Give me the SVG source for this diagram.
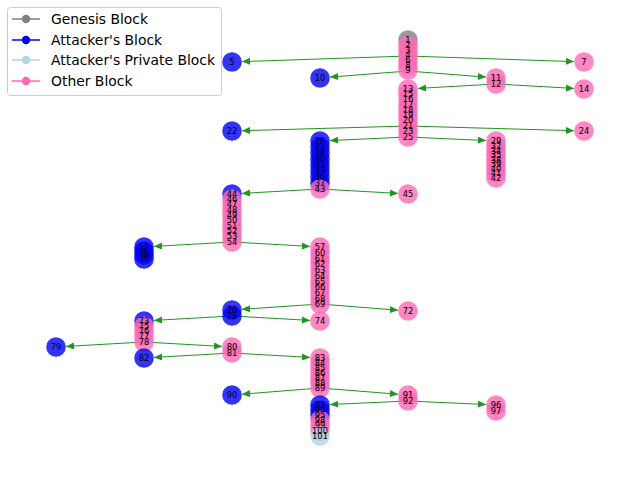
<svg xmlns="http://www.w3.org/2000/svg" width="640" height="480" viewBox="0 0 640 480">
<style>
  .node circle { r: 9.8; fill-opacity: 0.8; }
  .g circle { fill: #808080; }
  .a circle { fill: #0000ff; }
  .p circle { fill: #add8e6; }
  .o circle { fill: #ff69b4; }
  .labels text { font-family: "DejaVu Sans", sans-serif; font-size: 8.3px; text-anchor: middle; dominant-baseline: central; fill: #000; }
  .edges line { stroke: #1f961f; stroke-width: 1; marker-end: url(#arrow); }
  .legend text { font-family: "DejaVu Sans", sans-serif; font-size: 13.9px; fill: #000; }
  .legend line { stroke-width: 1.5; }
</style>
<defs>
  <marker id="arrow" markerUnits="userSpaceOnUse" markerWidth="9" markerHeight="8" refX="8" refY="3.5" orient="auto">
    <path d="M0,0 L8,3.5 L0,7 z" fill="#1f961f"/>
  </marker>
</defs>
<rect width="640" height="480" fill="#fff"/>

<!-- fork connectors, drawn beneath the blocks -->
<g id="connectors" class="edges">
  <line x1="408" y1="56" x2="242" y2="61.6"/>
  <line x1="408" y1="56" x2="574" y2="61.6"/>
  <line x1="408" y1="71" x2="330" y2="77.1"/>
  <line x1="408" y1="71" x2="486" y2="77.1"/>
  <line x1="496" y1="84" x2="418" y2="88.4"/>
  <line x1="496" y1="84" x2="574" y2="88.4"/>
  <line x1="408" y1="126" x2="242" y2="130.7"/>
  <line x1="408" y1="126" x2="574" y2="130.7"/>
  <line x1="408" y1="137" x2="330" y2="140.5"/>
  <line x1="408" y1="137" x2="486" y2="140.5"/>
  <line x1="320" y1="189" x2="242" y2="193.4"/>
  <line x1="320" y1="189" x2="398" y2="193.4"/>
  <line x1="232" y1="242" x2="154" y2="246.4"/>
  <line x1="232" y1="242" x2="310" y2="246.4"/>
  <line x1="320" y1="304" x2="242" y2="309.3"/>
  <line x1="320" y1="304" x2="398" y2="310.2"/>
  <line x1="232" y1="316" x2="154" y2="320.4"/>
  <line x1="232" y1="316" x2="310" y2="320.4"/>
  <line x1="144" y1="342" x2="66" y2="346.4"/>
  <line x1="144" y1="342" x2="222" y2="346.4"/>
  <line x1="232" y1="353" x2="154" y2="357.4"/>
  <line x1="232" y1="353" x2="310" y2="357.4"/>
  <line x1="320" y1="388" x2="242" y2="394.2"/>
  <line x1="320" y1="388" x2="398" y2="394.2"/>
  <line x1="408" y1="401" x2="330" y2="404.5"/>
  <line x1="408" y1="401" x2="486" y2="404.5"/>
</g>

<!-- blocks, in creation order -->
<g id="n1" class="node g"><circle cx="408" cy="40"/></g>
<g id="n2" class="node o"><circle cx="408" cy="45"/></g>
<g id="n3" class="node o"><circle cx="408" cy="50"/></g>
<g id="n4" class="node o"><circle cx="408" cy="55"/></g>
<g id="n5" class="node a"><circle cx="232" cy="62"/></g>
<g id="n6" class="node o"><circle cx="408" cy="60"/></g>
<g id="n7" class="node o"><circle cx="584" cy="62"/></g>
<g id="n8" class="node o"><circle cx="408" cy="65"/></g>
<g id="n9" class="node o"><circle cx="408" cy="70"/></g>
<g id="n10" class="node a"><circle cx="320" cy="78"/></g>
<g id="n11" class="node o"><circle cx="496" cy="78"/></g>
<g id="n12" class="node o"><circle cx="496" cy="84"/></g>
<g id="n13" class="node o"><circle cx="408" cy="89"/></g>
<g id="n14" class="node o"><circle cx="584" cy="89"/></g>
<g id="n15" class="node o"><circle cx="408" cy="94"/></g>
<g id="n16" class="node o"><circle cx="408" cy="99"/></g>
<g id="n17" class="node o"><circle cx="408" cy="105"/></g>
<g id="n18" class="node o"><circle cx="408" cy="110"/></g>
<g id="n19" class="node o"><circle cx="408" cy="115"/></g>
<g id="n20" class="node o"><circle cx="408" cy="120"/></g>
<g id="n21" class="node o"><circle cx="408" cy="126"/></g>
<g id="n22" class="node a"><circle cx="232" cy="131"/></g>
<g id="n23" class="node o"><circle cx="408" cy="131"/></g>
<g id="n24" class="node o"><circle cx="584" cy="131"/></g>
<g id="n25" class="node o"><circle cx="408" cy="137"/></g>
<g id="n26" class="node a"><circle cx="320" cy="141"/></g>
<g id="n27" class="node a"><circle cx="320" cy="147"/></g>
<g id="n28" class="node a"><circle cx="320" cy="153"/></g>
<g id="n29" class="node o"><circle cx="496" cy="141"/></g>
<g id="n30" class="node a"><circle cx="320" cy="159"/></g>
<g id="n31" class="node a"><circle cx="320" cy="165"/></g>
<g id="n32" class="node o"><circle cx="496" cy="146"/></g>
<g id="n33" class="node a"><circle cx="320" cy="171"/></g>
<g id="n34" class="node o"><circle cx="496" cy="151"/></g>
<g id="n35" class="node o"><circle cx="496" cy="155"/></g>
<g id="n36" class="node a"><circle cx="320" cy="177"/></g>
<g id="n37" class="node a"><circle cx="320" cy="183"/></g>
<g id="n38" class="node o"><circle cx="496" cy="160"/></g>
<g id="n39" class="node o"><circle cx="496" cy="164"/></g>
<g id="n40" class="node o"><circle cx="496" cy="169"/></g>
<g id="n41" class="node o"><circle cx="496" cy="173"/></g>
<g id="n42" class="node o"><circle cx="496" cy="178"/></g>
<g id="n43" class="node o"><circle cx="320" cy="189"/></g>
<g id="n44" class="node a"><circle cx="232" cy="194"/></g>
<g id="n45" class="node o"><circle cx="408" cy="194"/></g>
<g id="n46" class="node o"><circle cx="232" cy="199"/></g>
<g id="n47" class="node o"><circle cx="232" cy="204"/></g>
<g id="n48" class="node o"><circle cx="232" cy="210"/></g>
<g id="n49" class="node o"><circle cx="232" cy="215"/></g>
<g id="n50" class="node o"><circle cx="232" cy="220"/></g>
<g id="n51" class="node o"><circle cx="232" cy="226"/></g>
<g id="n52" class="node o"><circle cx="232" cy="231"/></g>
<g id="n53" class="node o"><circle cx="232" cy="236"/></g>
<g id="n54" class="node o"><circle cx="232" cy="242"/></g>
<g id="n55" class="node a"><circle cx="144" cy="247"/></g>
<g id="n56" class="node a"><circle cx="144" cy="251"/></g>
<g id="n57" class="node o"><circle cx="320" cy="247"/></g>
<g id="n58" class="node a"><circle cx="144" cy="255"/></g>
<g id="n59" class="node a"><circle cx="144" cy="259"/></g>
<g id="n60" class="node o"><circle cx="320" cy="253"/></g>
<g id="n61" class="node o"><circle cx="320" cy="259"/></g>
<g id="n62" class="node o"><circle cx="320" cy="264"/></g>
<g id="n63" class="node o"><circle cx="320" cy="270"/></g>
<g id="n64" class="node o"><circle cx="320" cy="276"/></g>
<g id="n65" class="node o"><circle cx="320" cy="282"/></g>
<g id="n66" class="node o"><circle cx="320" cy="287"/></g>
<g id="n67" class="node o"><circle cx="320" cy="293"/></g>
<g id="n68" class="node o"><circle cx="320" cy="299"/></g>
<g id="n69" class="node o"><circle cx="320" cy="304"/></g>
<g id="n70" class="node a"><circle cx="232" cy="310"/></g>
<g id="n71" class="node a"><circle cx="232" cy="316"/></g>
<g id="n72" class="node o"><circle cx="408" cy="311"/></g>
<g id="n73" class="node a"><circle cx="144" cy="321"/></g>
<g id="n74" class="node o"><circle cx="320" cy="321"/></g>
<g id="n75" class="node o"><circle cx="144" cy="326"/></g>
<g id="n76" class="node o"><circle cx="144" cy="331"/></g>
<g id="n77" class="node o"><circle cx="144" cy="336"/></g>
<g id="n78" class="node o"><circle cx="144" cy="342"/></g>
<g id="n79" class="node a"><circle cx="56" cy="347"/></g>
<g id="n80" class="node o"><circle cx="232" cy="347"/></g>
<g id="n81" class="node o"><circle cx="232" cy="353"/></g>
<g id="n82" class="node a"><circle cx="144" cy="358"/></g>
<g id="n83" class="node o"><circle cx="320" cy="358"/></g>
<g id="n84" class="node o"><circle cx="320" cy="363"/></g>
<g id="n85" class="node o"><circle cx="320" cy="368"/></g>
<g id="n86" class="node o"><circle cx="320" cy="373"/></g>
<g id="n87" class="node o"><circle cx="320" cy="378"/></g>
<g id="n88" class="node o"><circle cx="320" cy="383"/></g>
<g id="n89" class="node o"><circle cx="320" cy="388"/></g>
<g id="n90" class="node a"><circle cx="232" cy="395"/></g>
<g id="n91" class="node o"><circle cx="408" cy="395"/></g>
<g id="n92" class="node o"><circle cx="408" cy="401"/></g>
<g id="n93" class="node a"><circle cx="320" cy="405"/></g>
<g id="n94" class="node a"><circle cx="320" cy="410"/></g>
<g id="n95" class="node a"><circle cx="320" cy="415"/></g>
<g id="n96" class="node o"><circle cx="496" cy="405"/></g>
<g id="n97" class="node o"><circle cx="496" cy="411"/></g>
<g id="n98" class="node o"><circle cx="320" cy="420"/></g>
<g id="n99" class="node o"><circle cx="320" cy="425"/></g>
<g id="n100" class="node o"><circle cx="320" cy="431"/></g>
<g id="n101" class="node p"><circle cx="320" cy="436"/></g>

<!-- block numbers, drawn above every block -->
<g id="labels" class="labels">
  <text x="408" y="40">1</text>
  <text x="408" y="45">2</text>
  <text x="408" y="50">3</text>
  <text x="408" y="55">4</text>
  <text x="232" y="62">5</text>
  <text x="408" y="60">6</text>
  <text x="584" y="62">7</text>
  <text x="408" y="65">8</text>
  <text x="408" y="70">9</text>
  <text x="320" y="78">10</text>
  <text x="496" y="78">11</text>
  <text x="496" y="84">12</text>
  <text x="408" y="89">13</text>
  <text x="584" y="89">14</text>
  <text x="408" y="94">15</text>
  <text x="408" y="99">16</text>
  <text x="408" y="105">17</text>
  <text x="408" y="110">18</text>
  <text x="408" y="115">19</text>
  <text x="408" y="120">20</text>
  <text x="408" y="126">21</text>
  <text x="232" y="131">22</text>
  <text x="408" y="131">23</text>
  <text x="584" y="131">24</text>
  <text x="408" y="137">25</text>
  <text x="320" y="141">26</text>
  <text x="320" y="147">27</text>
  <text x="320" y="153">28</text>
  <text x="496" y="141">29</text>
  <text x="320" y="159">30</text>
  <text x="320" y="165">31</text>
  <text x="496" y="146">32</text>
  <text x="320" y="171">33</text>
  <text x="496" y="151">34</text>
  <text x="496" y="155">35</text>
  <text x="320" y="177">36</text>
  <text x="320" y="183">37</text>
  <text x="496" y="160">38</text>
  <text x="496" y="164">39</text>
  <text x="496" y="169">40</text>
  <text x="496" y="173">41</text>
  <text x="496" y="178">42</text>
  <text x="320" y="189">43</text>
  <text x="232" y="194">44</text>
  <text x="408" y="194">45</text>
  <text x="232" y="199">46</text>
  <text x="232" y="204">47</text>
  <text x="232" y="210">48</text>
  <text x="232" y="215">49</text>
  <text x="232" y="220">50</text>
  <text x="232" y="226">51</text>
  <text x="232" y="231">52</text>
  <text x="232" y="236">53</text>
  <text x="232" y="242">54</text>
  <text x="144" y="247">55</text>
  <text x="144" y="251">56</text>
  <text x="320" y="247">57</text>
  <text x="144" y="255">58</text>
  <text x="144" y="259">59</text>
  <text x="320" y="253">60</text>
  <text x="320" y="259">61</text>
  <text x="320" y="264">62</text>
  <text x="320" y="270">63</text>
  <text x="320" y="276">64</text>
  <text x="320" y="282">65</text>
  <text x="320" y="287">66</text>
  <text x="320" y="293">67</text>
  <text x="320" y="299">68</text>
  <text x="320" y="304">69</text>
  <text x="232" y="310">70</text>
  <text x="232" y="316">71</text>
  <text x="408" y="311">72</text>
  <text x="144" y="321">73</text>
  <text x="320" y="321">74</text>
  <text x="144" y="326">75</text>
  <text x="144" y="331">76</text>
  <text x="144" y="336">77</text>
  <text x="144" y="342">78</text>
  <text x="56" y="347">79</text>
  <text x="232" y="347">80</text>
  <text x="232" y="353">81</text>
  <text x="144" y="358">82</text>
  <text x="320" y="358">83</text>
  <text x="320" y="363">84</text>
  <text x="320" y="368">85</text>
  <text x="320" y="373">86</text>
  <text x="320" y="378">87</text>
  <text x="320" y="383">88</text>
  <text x="320" y="388">89</text>
  <text x="232" y="395">90</text>
  <text x="408" y="395">91</text>
  <text x="408" y="401">92</text>
  <text x="320" y="405">93</text>
  <text x="320" y="410">94</text>
  <text x="320" y="415">95</text>
  <text x="496" y="405">96</text>
  <text x="496" y="411">97</text>
  <text x="320" y="420">98</text>
  <text x="320" y="425">99</text>
  <text x="320" y="431">100</text>
  <text x="320" y="436">101</text>
</g>

<!-- legend -->
<g id="legend" class="legend">
  <rect x="7.5" y="7.5" width="214" height="88" rx="3" fill="#fff" fill-opacity="0.8" stroke="#cccccc"/>
  <line x1="12" y1="19" x2="40" y2="19" stroke="#808080"/><circle cx="26" cy="19" r="4.2" fill="#808080"/>
  <text x="51" y="24">Genesis Block</text>
  <line x1="12" y1="40" x2="40" y2="40" stroke="#0000ff"/><circle cx="26" cy="40" r="4.2" fill="#0000ff"/>
  <text x="51" y="45">Attacker's Block</text>
  <line x1="12" y1="60" x2="40" y2="60" stroke="#add8e6"/><circle cx="26" cy="60" r="4.2" fill="#add8e6"/>
  <text x="51" y="65">Attacker's Private Block</text>
  <line x1="12" y1="81" x2="40" y2="81" stroke="#ff69b4"/><circle cx="26" cy="81" r="4.2" fill="#ff69b4"/>
  <text x="51" y="86">Other Block</text>
</g>
</svg>
